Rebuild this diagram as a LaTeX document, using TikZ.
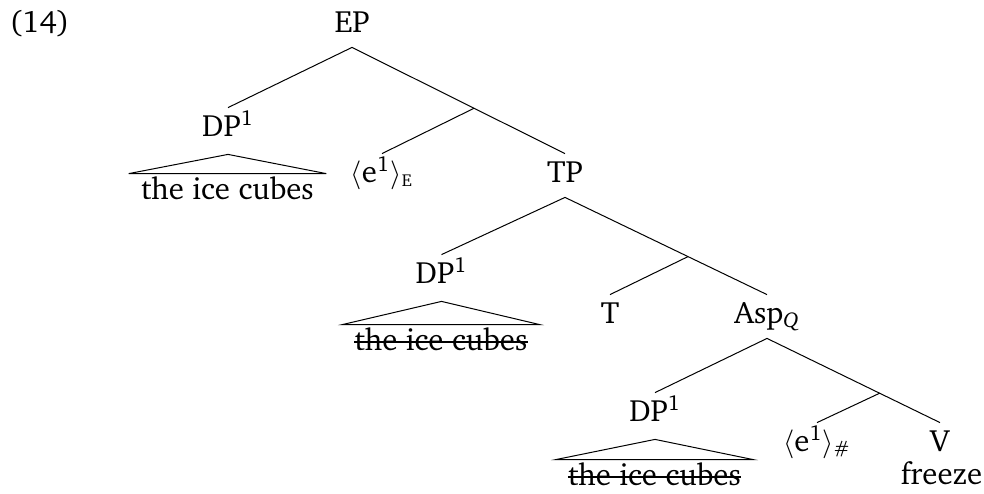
\documentclass[tikz,border=0pt]{standalone}
\usepackage[T1]{fontenc}
\usepackage{charter}
\usetikzlibrary{calc}
\begin{document}
\begin{tikzpicture}[x=0.5pt,y=-0.5pt,
  every node/.style={font=\fontsize{15.4}{18.5}\selectfont},
  lab/.style={inner sep=0pt,anchor=base,text height=14pt,text depth=7.5pt},
  dp/.style={inner sep=0pt,anchor=base,text height=14pt,text depth=9pt},
  leaf/.style={inner ysep=0pt,inner xsep=6pt,anchor=base,text height=12.5pt,text depth=0pt},
  edge/.style={line width=0.5pt},
  strike/.style={line width=0.6pt}]
\useasboundingbox (0,0) rectangle (984,493);
\node[lab] (ex) at (39.5,32) {(14)};
\node[lab] (EP) at (352,32) {EP};
\node[dp] (DPa) at (228,136) {DP\textsuperscript{1}};
\node[leaf] (ICa) at (227.5,199) {the ice cubes};
\node[lab] (Ea) at (382,182) {$\langle$e\textsuperscript{1}$\rangle$\textsubscript{\textsc{e}}};
\node[lab] (TP) at (565,182) {TP};
\node[dp] (DPb) at (441.5,283) {DP\textsuperscript{1}};
\node[leaf] (ICb) at (441,350) {the ice cubes};
\node[lab] (T) at (610,323) {T};
\node[lab] (Asp) at (767,323) {Asp\textsubscript{\itshape Q}};
\node[dp] (DPc) at (655,421) {DP\textsuperscript{1}};
\node[leaf] (ICc) at (654.5,485) {the ice cubes};
\node[lab] (Eb) at (817,451) {$\langle$e\textsuperscript{1}$\rangle$\textsubscript{\itshape\#}};
\node[lab] (V) at (940,451) {V};
\node[lab] (fr) at (941.5,484) {freeze};
\coordinate (m1) at ($(EP.south)!0.573!(TP.north)$);
\coordinate (m2) at ($(TP.south)!0.609!(Asp.north)$);
\coordinate (m3) at ($(Asp.south)!0.651!(V.north)$);
\draw[edge] (EP.south) -- (DPa.north);
\draw[edge] (EP.south) -- (TP.north);
\draw[edge] (m1) -- (Ea.north);
\draw[edge] (TP.south) -- (DPb.north);
\draw[edge] (TP.south) -- (Asp.north);
\draw[edge] (m2) -- (T.north);
\draw[edge] (Asp.south) -- (DPc.north);
\draw[edge] (Asp.south) -- (V.north);
\draw[edge] (m3) -- (Eb.north);
\draw[edge] (DPa.south) -- (ICa.north west) -- (ICa.north east) -- cycle;
\draw[edge] (DPb.south) -- (ICb.north west) -- (ICb.north east) -- cycle;
\draw[edge] (DPc.south) -- (ICc.north west) -- (ICc.north east) -- cycle;
\draw[strike] ([xshift=6pt,yshift=4pt]ICb.base west) -- ([xshift=-6pt,yshift=4pt]ICb.base east);
\draw[strike] ([xshift=6pt,yshift=4pt]ICc.base west) -- ([xshift=-6pt,yshift=4pt]ICc.base east);
\end{tikzpicture}
\end{document}
